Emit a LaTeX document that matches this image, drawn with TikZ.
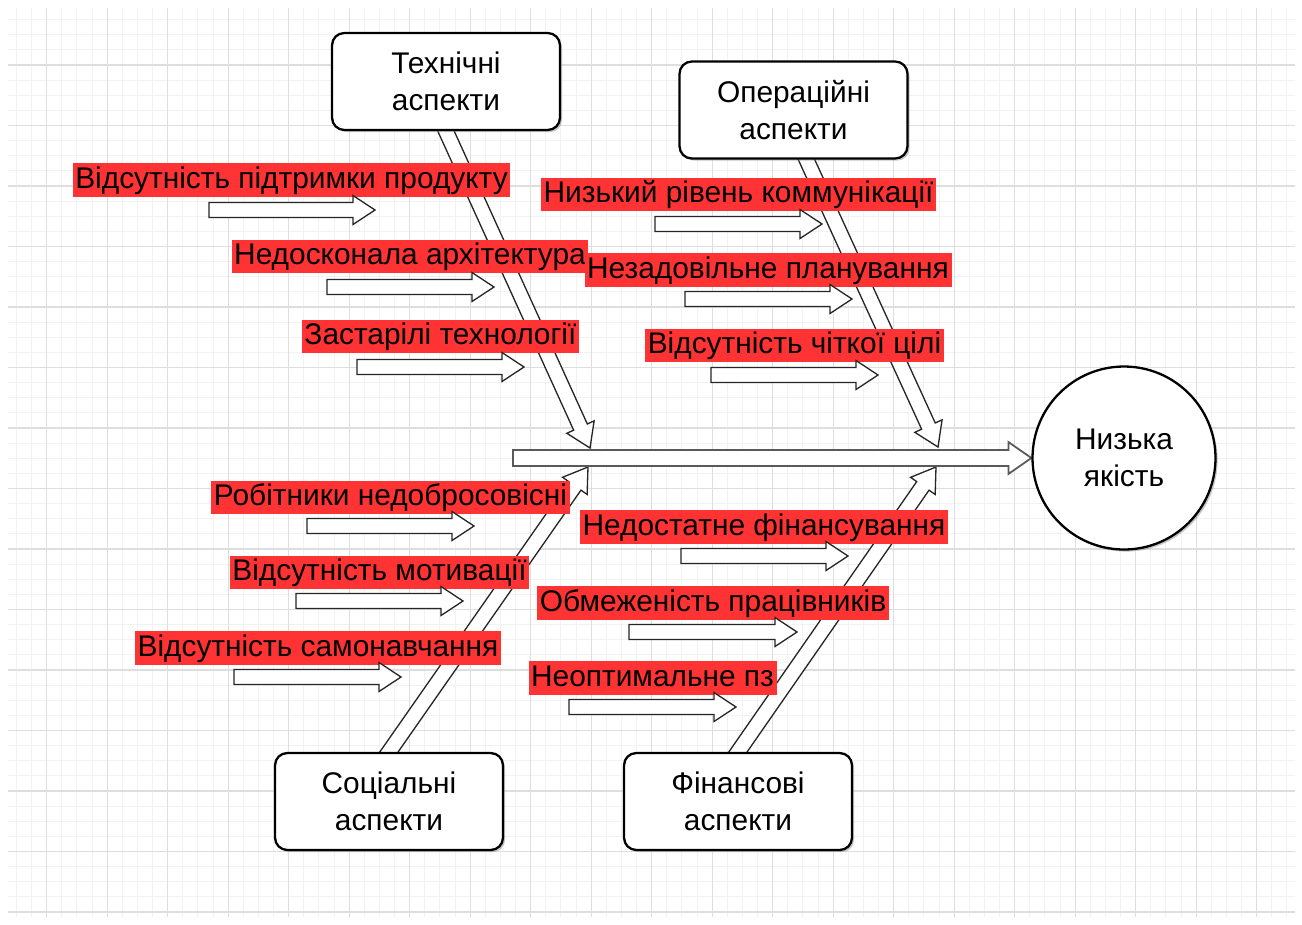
\documentclass[tikz,border=0pt]{standalone}
\usepackage{fontspec}
\setmainfont{Liberation Sans}
\usetikzlibrary{calc,shadows,backgrounds}
\definecolor{causered}{RGB}{255,51,51}
\definecolor{gridmajor}{RGB}{222,222,222}
\definecolor{gridminor}{RGB}{242,242,242}

\begin{document}
\begin{tikzpicture}[
        x=0.02cm, y=-0.02cm,
        font=\fontsize{17}{21}\selectfont,
        aspect box/.style = {rectangle, rounded corners=7pt, draw, line width=1.3pt, fill=white, minimum width=4.56cm, minimum height=1.94cm, align=center, drop shadow={shadow xshift=1.2pt, shadow yshift=-1.2pt, fill=black!45, opacity=0.5}},
        effect circ/.style = {circle, draw, line width=1.3pt, fill=white, minimum size=3.66cm, inner sep=0pt, align=center, drop shadow={shadow xshift=1.2pt, shadow yshift=-1.2pt, fill=black!45, opacity=0.5}},
        cause label/.style = {fill=causered, inner xsep=1.5pt, inner ysep=0pt, text height=14.2pt, text depth=4.6pt},  % red caption
        hollow/.style = {draw=black!85, fill=white, line width=0.75pt, line join=miter},
        fat arrow/.style args = {#1/#2/#3}{to path={
            ($(\tikztostart)!#1!90:(\tikztotarget)$)
            -- ($($(\tikztotarget)!#3!(\tikztostart)$)!#1!90:(\tikztotarget)$)
            -- ($($(\tikztotarget)!#3!(\tikztostart)$)!#2!90:(\tikztotarget)$)
            -- (\tikztotarget)
            -- ($($(\tikztotarget)!#3!(\tikztostart)$)!#2!-90:(\tikztotarget)$)
            -- ($($(\tikztotarget)!#3!(\tikztostart)$)!#1!-90:(\tikztotarget)$)
            -- ($(\tikztostart)!#1!-90:(\tikztotarget)$)
            -- cycle}},
        small arrow/.style = {hollow, fat arrow=0.15cm/0.29cm/0.44cm},
        bone/.style = {hollow, fat arrow=0.15cm/0.3cm/0.46cm},
        spine/.style = {hollow, draw=black!65, line width=1pt, fat arrow=0.16cm/0.32cm/0.46cm},
        grid minor/.style = {gridminor, line width=0.6pt},
        grid major/.style = {gridmajor, line width=0.7pt},
        ]
        \useasboundingbox (0,0) rectangle (1302,924);

        % Aspect boxes
        \node[aspect box] (tech) at (446,81.5) {Технічні\\аспекти};
        \node[aspect box] (ops) at (793.5,110) {Операційні\\аспекти};
        \node[aspect box] (soc) at (389,801.5) {Соціальні\\аспекти};
        \node[aspect box] (fin) at (738,801.5) {Фінансові\\аспекти};

        % Effect
        \node[effect circ] (quality) at (1124,458) {Низька\\якість};

        % Causes, technical
        \node[cause label] (T1) at (291.5,180) {Відсутність підтримки продукту};
        \node[cause label] (T2) at (410,256.5) {Недосконала архітектура};
        \node[cause label] (T3) at (440.5,336.5) {Застарілі технології};

        % Causes, operational
        \node[cause label] (O1) at (738.5,194.5) {Низький рівень коммунікації};
        \node[cause label] (O2) at (768,270) {Незадовільне планування};
        \node[cause label] (O3) at (794.5,345.5) {Відсутність чіткої цілі};

        % Causes, social
        \node[cause label] (S1) at (390.5,497.5) {Робітники недобросовісні};
        \node[cause label] (S2) at (379.5,572.5) {Відсутність мотивації};
        \node[cause label] (S3) at (318,648) {Відсутність самонавчання};

        % Causes, financial
        \node[cause label] (F1) at (764,527) {Недостатне фінансування};
        \node[cause label] (F2) at (713,603) {Обмеженість працівників};
        \node[cause label] (F3) at (652.5,678) {Неоптимальне пз};

        % Bone ends
        \coordinate (tech-tip) at (590,448);
        \coordinate (ops-tip) at (938,447);
        \coordinate (soc-tip) at (588,467);
        \coordinate (fin-tip) at (936,467);
        \coordinate (ops-foot) at ([xshift=0.26cm]ops.south);
        \coordinate (tech-root) at ($(tech-tip)!1.05!(tech.south)$);
        \coordinate (ops-root) at ($(ops-tip)!1.05!(ops-foot)$);
        \coordinate (soc-root) at ($(soc-tip)!1.05!(soc.north)$);
        \coordinate (fin-root) at ($(fin-tip)!1.05!(fin.north)$);
        \coordinate (spine-tail) at (513,458);

        \begin{scope}[on background layer]
            \fill[white] (0,0) rectangle (1302,924);
            % Grid
            \begin{scope}
                \clip (8,8) rectangle (1295,917);
                \foreach \k in {0,...,87} {
                    \draw[grid minor] ({-13.8+15.125*\k},8) -- ({-13.8+15.125*\k},917);
                }
                \foreach \k in {0,...,61} {
                    \draw[grid minor] (8,{4.5+15.125*\k}) -- (1295,{4.5+15.125*\k});
                }
                \foreach \k in {0,...,22} {
                    \draw[grid major] ({-13.8+60.5*\k},8) -- ({-13.8+60.5*\k},917);
                }
                \foreach \k in {0,...,15} {
                    \draw[grid major] (8,{4.5+60.5*\k}) -- (1295,{4.5+60.5*\k});
                }
            \end{scope}

            % Bones and spine
            \draw[bone] (tech-root) to (tech-tip);
            \draw[bone] (ops-root) to (ops-tip);
            \draw[bone] (soc-root) to (soc-tip);
            \draw[bone] (fin-root) to (fin-tip);
            \draw[spine] (spine-tail) to (quality.west);
        \end{scope}

        % Cause arrows, technical
        \coordinate (T1a) at (209,210);   \coordinate (T1b) at (375,210);
        \coordinate (T2a) at (327,287);   \coordinate (T2b) at (494,287);
        \coordinate (T3a) at (357,367);   \coordinate (T3b) at (524,367);
        \draw[small arrow] (T1a) to (T1b);
        \draw[small arrow] (T2a) to (T2b);
        \draw[small arrow] (T3a) to (T3b);

        % Cause arrows, operational
        \coordinate (O1a) at (655,224);   \coordinate (O1b) at (822,224);
        \coordinate (O2a) at (685,299);   \coordinate (O2b) at (852,299);
        \coordinate (O3a) at (711,375);   \coordinate (O3b) at (878,375);
        \draw[small arrow] (O1a) to (O1b);
        \draw[small arrow] (O2a) to (O2b);
        \draw[small arrow] (O3a) to (O3b);

        % Cause arrows, social
        \coordinate (S1a) at (307,526);   \coordinate (S1b) at (474,526);
        \coordinate (S2a) at (296,601);   \coordinate (S2b) at (463,601);
        \coordinate (S3a) at (234,677);   \coordinate (S3b) at (401,677);
        \draw[small arrow] (S1a) to (S1b);
        \draw[small arrow] (S2a) to (S2b);
        \draw[small arrow] (S3a) to (S3b);

        % Cause arrows, financial
        \coordinate (F1a) at (681,556);   \coordinate (F1b) at (848,556);
        \coordinate (F2a) at (629,632);   \coordinate (F2b) at (797,632);
        \coordinate (F3a) at (569,707);   \coordinate (F3b) at (736,707);
        \draw[small arrow] (F1a) to (F1b);
        \draw[small arrow] (F2a) to (F2b);
        \draw[small arrow] (F3a) to (F3b);
    \end{tikzpicture}
\end{document}
